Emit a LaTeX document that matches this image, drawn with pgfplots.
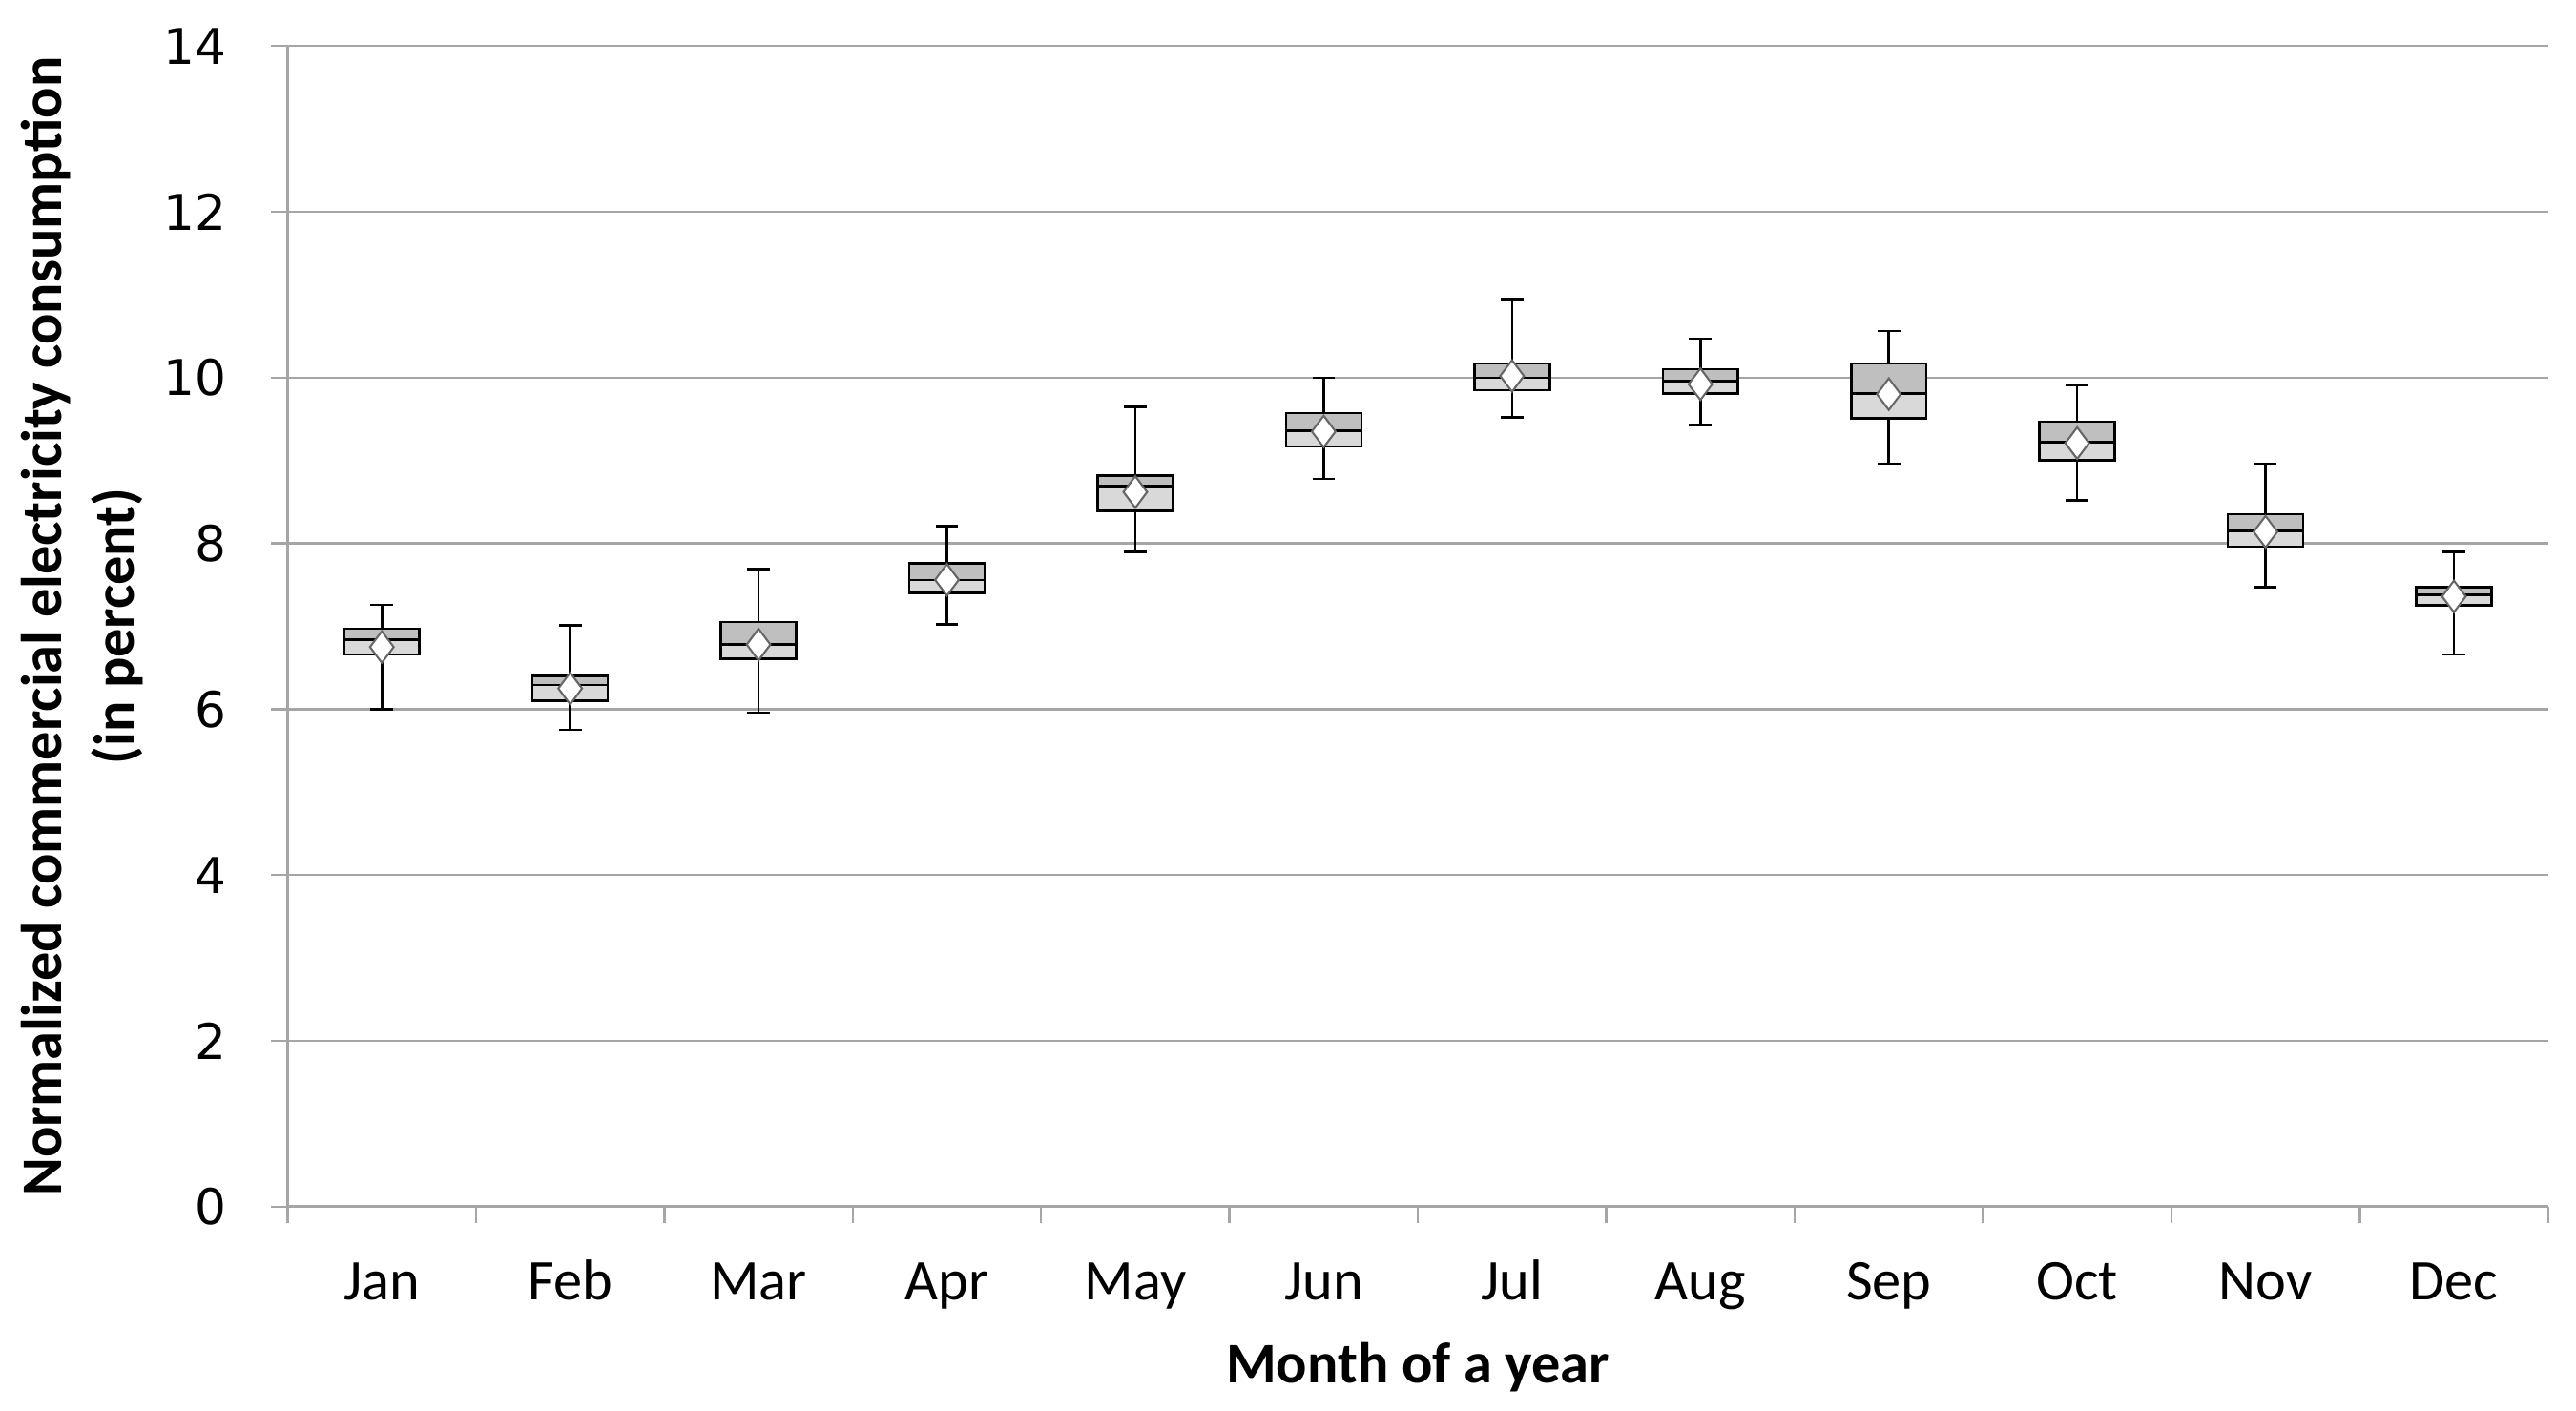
\documentclass[border=0pt]{standalone}
\usepackage{fontspec}
\setmainfont{Carlito}
\newfontfamily\dejavu{DejaVu Sans}
\usepackage{pgfplots}
\pgfplotsset{compat=1.18}
\usepgfplotslibrary{statistics}
\definecolor{dgray}{RGB}{191,191,191}
\definecolor{lgray}{RGB}{217,217,217}
\definecolor{gridc}{RGB}{165,165,165}
\newcommand{\bx}[6]{%
  \addplot[draw=black, line width=0.75pt, fill=lgray, boxplot prepared={draw direction=y, draw position=#1, lower whisker=#2, lower quartile=#3, median=#4, upper quartile=#5, upper whisker=#6, box extend=0.4, whisker extend=0.12}] coordinates {};
  \addplot[draw=black, line width=0.75pt, fill=dgray, boxplot prepared={draw direction=y, draw position=#1, lower whisker=#4, lower quartile=#4, median=#4, upper quartile=#5, upper whisker=#5, box extend=0.4, whisker extend=0}] coordinates {};
}
\begin{document}
\begin{tikzpicture}
\path[use as bounding box] (-87.5pt,-62pt) rectangle (696pt,367pt);
\begin{axis}[
  scale only axis, width=687.5pt, height=353pt,
  xmin=0.5, xmax=12.5, ymin=0, ymax=14,
  axis x line*=bottom, axis y line*=left,
  axis line style={gridc, line width=0.9pt},
  ytick={0,2,...,14},
  ymajorgrids, grid style={gridc, line width=0.7pt},
  xtick={1,...,12},
  xticklabels={Jan,Feb,Mar,Apr,May,Jun,Jul,Aug,Sep,Oct,Nov,Dec},
  minor xtick={0.5,1.5,...,12.5},
  tick align=outside,
  major x tick style={draw=none},
  minor x tick style={gridc, line width=0.7pt},
  major y tick style={gridc, line width=0.7pt},
  major tick length=5pt, minor tick length=5pt,
  /pgf/number format/assume math mode=true,
  yticklabel style={font=\dejavu\fontsize{15}{15}\selectfont, anchor=east, xshift=-10pt},
  xticklabel style={font=\fontsize{17.5}{18}\selectfont, anchor=base, yshift=-23.5pt},
  every axis x label/.style={at={(axis description cs:0.5,0)}, anchor=base, yshift=-53.5pt, font=\bfseries\fontsize{17.5}{19}\selectfont},
  every axis y label/.style={at={(axis description cs:-0.0909,0.5)}, rotate=90, anchor=center, align=center, font=\bfseries\fontsize{17.5}{22}\selectfont},
  xlabel={Month of a year},
  ylabel={Normalized commercial electricity consumption\\(in percent)},
  clip=false,
]
\bx{1}{6.00}{6.66}{6.84}{6.97}{7.26}
\bx{2}{5.75}{6.10}{6.29}{6.40}{7.01}
\bx{3}{5.96}{6.61}{6.78}{7.05}{7.69}
\bx{4}{7.02}{7.40}{7.56}{7.76}{8.21}
\bx{5}{7.90}{8.39}{8.69}{8.82}{9.65}
\bx{6}{8.78}{9.17}{9.36}{9.57}{10.00}
\bx{7}{9.52}{9.85}{10.00}{10.17}{10.95}
\bx{8}{9.43}{9.81}{9.96}{10.10}{10.47}
\bx{9}{8.96}{9.51}{9.81}{10.17}{10.56}
\bx{10}{8.52}{9.00}{9.22}{9.47}{9.91}
\bx{11}{7.47}{7.96}{8.15}{8.35}{8.96}
\bx{12}{6.66}{7.25}{7.38}{7.47}{7.90}
\addplot[only marks, mark=diamond*, mark size=4.8pt, mark options={fill=white, draw=gray!80!black, line width=0.6pt}] coordinates {
(1,6.75) (2,6.25) (3,6.78) (4,7.56) (5,8.62) (6,9.35) (7,10.02) (8,9.92) (9,9.80) (10,9.21) (11,8.14) (12,7.36)};
\end{axis}
\end{tikzpicture}
\end{document}
